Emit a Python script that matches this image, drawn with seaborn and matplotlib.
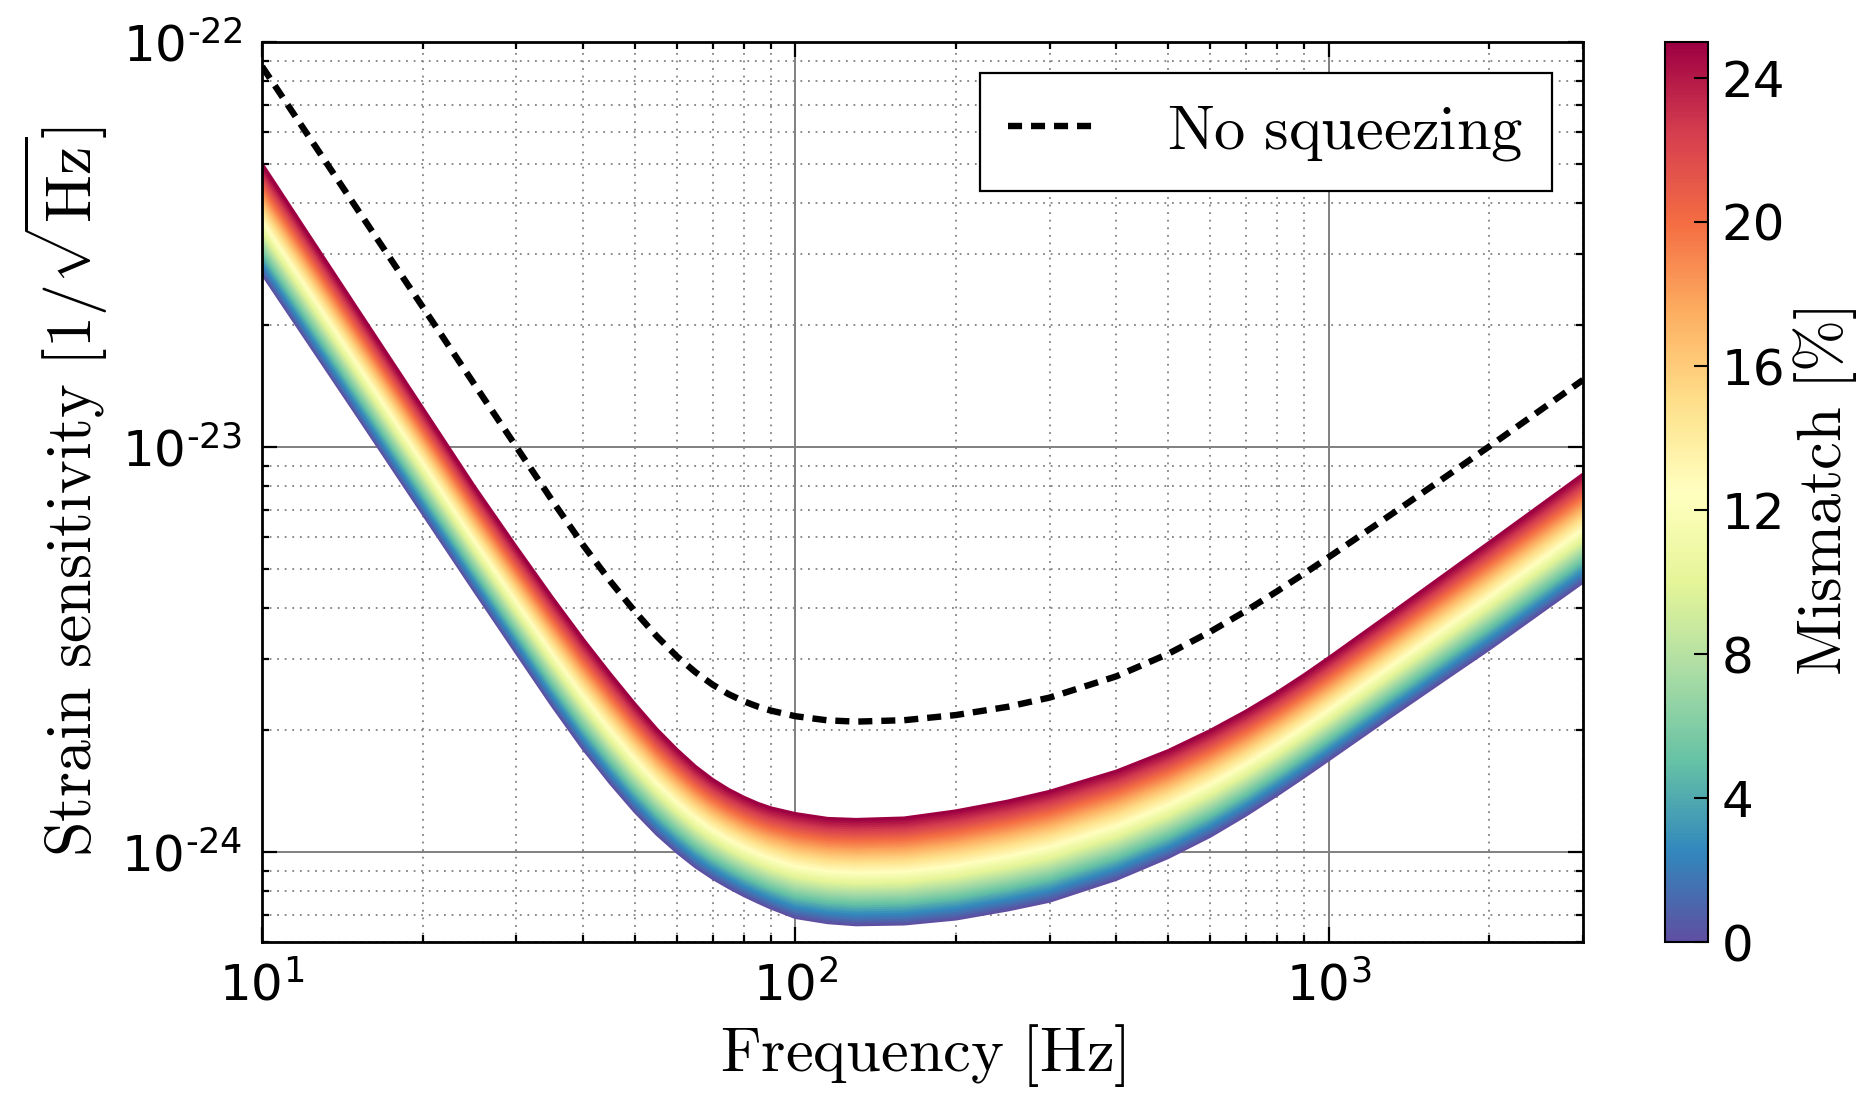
import numpy as np
import pandas as pd
import matplotlib
matplotlib.use('Agg')
import matplotlib.pyplot as plt
import seaborn as sns
from matplotlib.ticker import FuncFormatter, NullFormatter, LogLocator


# values, strain in units of 1e-24 / sqrt(Hz)
freq = [10, 15, 20, 25, 30, 35, 40, 45, 50, 55, 60, 65, 70, 75, 80, 85, 90, 100,
        115, 130, 160, 200, 250, 300, 400, 500, 600, 700, 800, 900, 1000,
        1300, 1700, 2000, 2500, 3000]

strain_0pct = [26.8, 12.1, 6.86, 4.42, 3.10, 2.30, 1.80, 1.48, 1.26, 1.107,
               1.0, 0.92, 0.862, 0.818, 0.782, 0.753, 0.728, 0.69, 0.670, 0.662,
               0.665, 0.684, 0.72, 0.757, 0.857, 0.97, 1.095, 1.235, 1.383, 1.535,
               1.69, 2.15, 2.74, 3.17, 3.91, 4.64]

strain_25pct = [50.0, 22.2, 12.5, 8.0, 5.66, 4.255, 3.355, 2.752, 2.323, 2.011,
                1.791, 1.627, 1.511, 1.428, 1.367, 1.320, 1.286, 1.245, 1.211, 1.204,
                1.214, 1.264, 1.336, 1.413, 1.585, 1.78, 1.997, 2.229, 2.477, 2.741,
                3.017, 3.862, 4.983, 5.815, 7.196, 8.57]

no_squeezing = [87.0, 39.1, 22.2, 14.3, 10.0, 7.38, 5.73, 4.66, 3.93, 3.41,
                3.04, 2.78, 2.59, 2.454, 2.358, 2.288, 2.236, 2.166, 2.115, 2.10,
                2.117, 2.18, 2.284, 2.408, 2.717, 3.086, 3.50, 3.941, 4.403, 4.872,
                5.345, 6.768, 8.641, 10.03, 12.35, 14.65]

mismatch_levels = np.arange(0, 25.5, 0.5)
mismatch_ticks = [0, 4, 8, 12, 16, 20, 24]
x_ticks = [10, 100, 1000]
y_ticks = [1e-24, 1e-23, 1e-22]


# band of curves between the 0 % and 25 % edges
lo = np.log10(strain_0pct)
hi = np.log10(strain_25pct)
rows = []
for m in mismatch_levels:
    w = m / 25.0
    vals = 10 ** ((1 - w) * lo + w * hi) * 1e-24
    for f, v in zip(freq, vals):
        rows.append((f, v, m))
band = pd.DataFrame(rows, columns=['freq', 'strain', 'mismatch'])

fig = plt.figure(figsize=(18.76, 11.08), dpi=100)
ax = fig.add_axes([0.1397, 0.1498, 0.7041, 0.8123])
cax = fig.add_axes([0.8875, 0.1498, 0.0229, 0.8123])

sns.lineplot(data=band, x='freq', y='strain', hue='mismatch', units='mismatch',
             estimator=None, sort=False, palette='Spectral_r', hue_norm=(0, 25),
             legend=False, lw=2.3, ax=ax)

ax.plot(freq, np.array(no_squeezing) * 1e-24, color='k', lw=4.6, dashes=(2.2, 1.4),
        label=r'$\mathrm{No\ squeezing}$')

ax.set_xscale('log')
ax.set_yscale('log')
ax.set_xlim(10, 3000)
ax.set_ylim(6e-25, 1e-22)


def pow_label(v, pos):
    e = int(round(np.log10(v)))
    if e < 0:
        return '$\\mathdefault{10^{\u2010%d}}$' % abs(e)
    return '$\\mathdefault{10^{%d}}$' % e


ax.set_xticks(x_ticks)
ax.set_yticks(y_ticks)
ax.xaxis.set_minor_locator(LogLocator(base=10, subs=np.arange(2, 10)))
ax.yaxis.set_minor_locator(LogLocator(base=10, subs=np.arange(2, 10)))
ax.xaxis.set_major_formatter(FuncFormatter(pow_label))
ax.yaxis.set_major_formatter(FuncFormatter(pow_label))
ax.xaxis.set_minor_formatter(NullFormatter())
ax.yaxis.set_minor_formatter(NullFormatter())

ax.set_axisbelow(True)
ax.grid(True, which='major', color='#808080', lw=1.4, ls='-')
ax.grid(True, which='minor', color='#808080', lw=1.3, ls=(0, (1, 3.2)))

ax.tick_params(which='both', direction='in', top=True, right=True, width=1.6)
ax.tick_params(which='major', length=11, labelsize=36)
ax.tick_params(which='minor', length=5)
ax.tick_params(axis='x', pad=14)
ax.tick_params(axis='y', pad=14)
for s in ax.spines.values():
    s.set_linewidth(2)
    s.set_color('k')

ax.set_xlabel('$\\mathrm{Frequency\\ [Hz]}$', fontsize=45, math_fontfamily='cm', labelpad=8)
ax.set_ylabel(r'$\mathrm{Strain\ sensitivity}\ [1/\sqrt{\mathrm{Hz}}]$', fontsize=46,
              math_fontfamily='cm', labelpad=8)

leg = ax.legend(loc='upper right', fontsize=45, frameon=True, fancybox=False,
                framealpha=1, edgecolor='k', handlelength=1.45, handletextpad=1.1,
                borderpad=0.45, borderaxespad=0.5)
leg.get_frame().set_linewidth(1.6)
for t in leg.get_texts():
    t.set_math_fontfamily('cm')

sm = plt.cm.ScalarMappable(cmap='Spectral_r', norm=plt.Normalize(0, 25))
cb = fig.colorbar(sm, cax=cax, ticks=mismatch_ticks)
cb.ax.tick_params(direction='in', length=10, width=1.5, labelsize=36, pad=10)
cb.outline.set_linewidth(1.5)
cb.set_label(r'$\mathrm{Mismatch}\ [\%]$', fontsize=45, math_fontfamily='cm', labelpad=4)

plt.savefig('out.png', dpi=100)
